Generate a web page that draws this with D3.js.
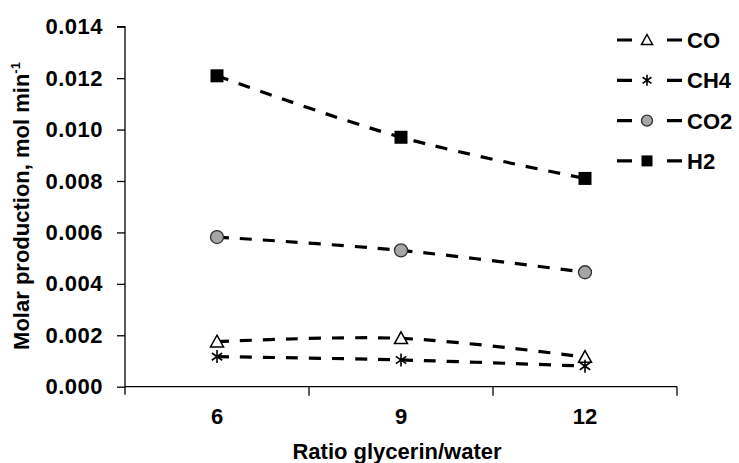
<!DOCTYPE html>
<html>
<head>
<meta charset="utf-8">
<script src="https://cdn.jsdelivr.net/npm/d3@7"></script>
<style>
  body { margin: 0; background: #fff; }
  text { font-family: "Liberation Sans", Arial, sans-serif; font-weight: bold; fill: #000; }
</style>
</head>
<body>
<script>
// data
var ratios = ["6", "9", "12"];
var coValues = [0.00175, 0.00188, 0.00115];
var ch4Values = [0.00117, 0.00104, 0.00080];
var co2Values = [0.00582, 0.00530, 0.00445];
var h2Values = [0.01209, 0.00970, 0.00810];
var yTicks = [0, 0.002, 0.004, 0.006, 0.008, 0.010, 0.012, 0.014];

var series = [
  { name: "CO", values: coValues, marker: "triangle" },
  { name: "CH4", values: ch4Values, marker: "star" },
  { name: "CO2", values: co2Values, marker: "circle" },
  { name: "H2", values: h2Values, marker: "square" }
];

function main() {
  var width = 739, height = 463;
  var left = 125, right = 677, top = 26.7, bottom = 386.7;

  var svg = d3.select("body").append("svg")
    .attr("width", width)
    .attr("height", height);

  var x = d3.scaleBand().domain(ratios).range([left, right]);
  var y = d3.scaleLinear().domain([0, 0.014]).range([bottom, top]);

  // y axis
  var yAxis = svg.append("g")
    .attr("transform", "translate(" + left + ",0)")
    .call(d3.axisLeft(y).tickValues(yTicks).tickSize(8).tickPadding(14)
      .tickFormat(d3.format(".3f")));
  yAxis.select(".domain").attr("stroke", "#000").attr("stroke-width", 1.3)
    .attr("d", "M-8," + top + "H0V" + (bottom + 8));
  yAxis.selectAll(".tick line").attr("stroke", "#000").attr("stroke-width", 1.3);
  yAxis.selectAll(".tick text").style("font-size", "22px").style("letter-spacing", "0.5px")
    .attr("fill", "#000");

  // x axis, Excel style ticks between categories
  var xAxis = svg.append("g")
    .attr("transform", "translate(0," + bottom + ")");
  xAxis.append("line")
    .attr("x1", left).attr("x2", right)
    .attr("stroke", "#000").attr("stroke-width", 1.3);
  xAxis.selectAll(".sep")
    .data(ratios)
    .enter().append("line")
    .attr("class", "sep")
    .attr("x1", function (d) { return x(d) + x.bandwidth(); })
    .attr("x2", function (d) { return x(d) + x.bandwidth(); })
    .attr("y1", 0).attr("y2", 9)
    .attr("stroke", "#000").attr("stroke-width", 1.3);
  xAxis.selectAll(".lab")
    .data(ratios)
    .enter().append("text")
    .attr("class", "lab")
    .attr("x", function (d) { return x(d) + x.bandwidth() / 2; })
    .attr("y", 37)
    .attr("text-anchor", "middle")
    .style("font-size", "22px")
    .text(function (d) { return d; });

  // axis titles
  svg.append("text")
    .attr("x", (left + right) / 2 - 4)
    .attr("y", 459)
    .attr("text-anchor", "middle")
    .style("font-size", "22px")
    .text("Ratio glycerin/water");

  var yt = svg.append("text")
    .attr("transform", "translate(29,206) rotate(-90)")
    .attr("text-anchor", "middle")
    .style("font-size", "22px");
  yt.append("tspan").text("Molar production, mol min");
  yt.append("tspan").attr("dy", -9).style("font-size", "13px").text("-1");

  // lines
  var line = d3.line()
    .x(function (d, i) { return x(ratios[i]) + x.bandwidth() / 2; })
    .y(function (d) { return y(d); })
    .curve(d3.curveCardinal);

  svg.selectAll(".series")
    .data(series)
    .enter().append("path")
    .attr("class", "series")
    .attr("d", function (s) { return line(s.values); })
    .attr("fill", "none")
    .attr("stroke", "#000")
    .attr("stroke-width", 3.2)
    .attr("stroke-dasharray", "12,11");

  function drawMarker(g, type, size) {
    var r = size / 2;
    if (type === "square") {
      g.append("rect").attr("x", -r).attr("y", -r).attr("width", size).attr("height", size)
        .attr("fill", "#000");
    } else if (type === "circle") {
      g.append("circle").attr("r", r).attr("fill", "#a6a6a6")
        .attr("stroke", "#333").attr("stroke-width", 1.3);
    } else if (type === "triangle") {
      g.append("path")
        .attr("d", "M0," + (-r) + "L" + r + "," + (r * 0.8) + "L" + (-r) + "," + (r * 0.8) + "Z")
        .attr("fill", "#fff").attr("stroke", "#000").attr("stroke-width", 1.5);
    } else {
      var d = r * 0.8;
      g.append("path")
        .attr("d", "M0," + (-r) + "V" + r + "M" + (-d) + "," + (-d * 0.7) + "L" + d + "," + (d * 0.7) +
          "M" + (-d) + "," + (d * 0.7) + "L" + d + "," + (-d * 0.7))
        .attr("stroke", "#000").attr("stroke-width", 1.6).attr("fill", "none");
    }
  }

  series.forEach(function (s) {
    s.values.forEach(function (v, i) {
      var g = svg.append("g")
        .attr("transform", "translate(" + (x(ratios[i]) + x.bandwidth() / 2) + "," + y(v) + ")");
      drawMarker(g, s.marker, 13);
    });
  });

  // legend
  var legend = svg.selectAll(".legend")
    .data(series)
    .enter().append("g")
    .attr("class", "legend")
    .attr("transform", function (d, i) { return "translate(617," + (40 + i * 40.3) + ")"; });
  legend.append("line")
    .attr("x1", 0).attr("x2", 65)
    .attr("stroke", "#000").attr("stroke-width", 3.2)
    .attr("stroke-dasharray", "15,35");
  legend.each(function (s) {
    var g = d3.select(this).append("g").attr("transform", "translate(30,0)");
    drawMarker(g, s.marker, 11);
  });
  legend.append("text")
    .attr("x", 70).attr("y", 8)
    .style("font-size", "22px")
    .text(function (d) { return d.name; });
}
document.addEventListener("DOMContentLoaded", main);
</script>
</body>
</html>
